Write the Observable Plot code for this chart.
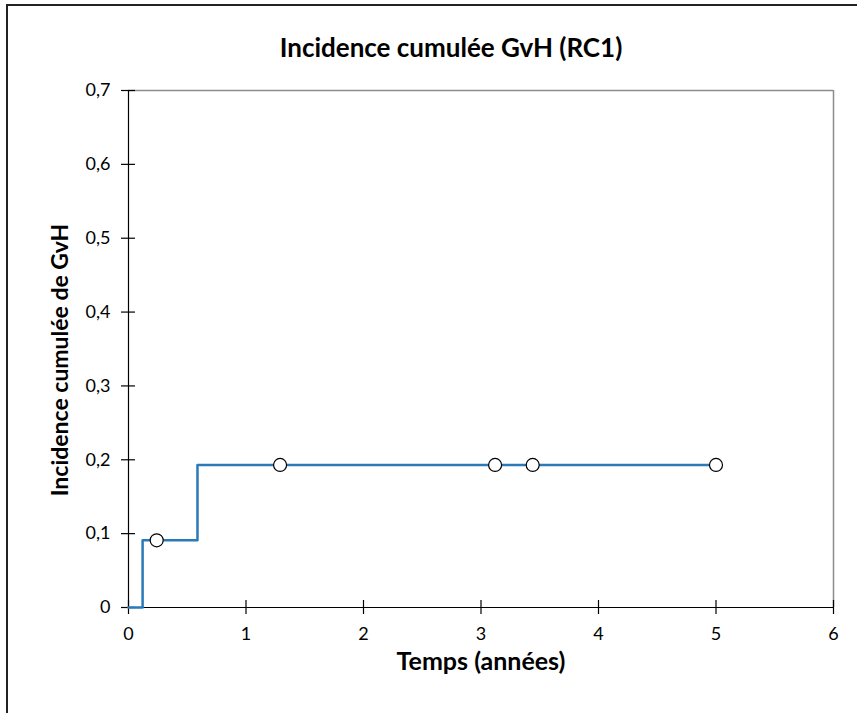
<!DOCTYPE html>
<html>
<head>
<meta charset="utf-8">
<script src="https://cdn.jsdelivr.net/npm/d3@7"></script>
<script src="https://cdn.jsdelivr.net/npm/@observablehq/plot@0.6"></script>
<style>
  html, body { margin: 0; padding: 0; background: #fff; }
  #page { position: relative; width: 857px; height: 713px; overflow: hidden; }
  #box { position: absolute; left: 6px; top: 4px; width: 900px; height: 800px;
         border-left: 2px solid #222; border-top: 2px solid #222; }
  #title { position: absolute; left: 0; width: 902px; top: 31px; text-align: center;
           font-family: Lato, sans-serif; font-weight: bold; font-size: 26px; color: #000; }
  #chart { position: absolute; left: 0; top: 0; }
  #chart g[aria-label="x-axis tick label"],
  #chart g[aria-label="y-axis tick label"] { font-size: 18px !important; }
</style>
</head>
<body>
<div id="page">
  <div id="box"></div>
  <div id="chart"></div>
  <div id="title">Incidence cumulée GvH (RC1)</div>
</div>
<script>
// Cumulative incidence step function (time in years)
const stepTimes = [0, 0.12, 0.587, 5.0];
const stepValues = [0, 0.091, 0.193, 0.193];

// Censored observations
const censorTimes = [0.24, 1.29, 3.12, 3.44, 5.0];
const censorValues = [0.091, 0.193, 0.193, 0.193, 0.193];

const xTicks = [0, 1, 2, 3, 4, 5, 6];
const yTicks = [0, 0.1, 0.2, 0.3, 0.4, 0.5, 0.6, 0.7];

const steps = stepTimes.map((t, i) => ({t, v: stepValues[i]}));
const censored = censorTimes.map((t, i) => ({t, v: censorValues[i]}));

const fmt = d => d === 0 ? "0" : String(d).replace(".", ",");

const chart = Plot.plot({
  width: 857,
  height: 713,
  marginLeft: 128,
  marginRight: 24,
  marginTop: 90,
  marginBottom: 106,
  style: {fontFamily: "Lato, sans-serif", fontSize: "18px", color: "#000", background: "transparent"},
  x: {domain: [0, 6]},
  y: {domain: [0, 0.7]},
  marks: [
    Plot.ruleY([0.7], {stroke: "#8c8c8c", strokeWidth: 1.5}),
    Plot.ruleX([6], {stroke: "#8c8c8c", strokeWidth: 1.5}),
    Plot.ruleX([0], {stroke: "#000", strokeWidth: 1.2}),
    Plot.ruleY([0], {stroke: "#000", strokeWidth: 1.2}),
    Plot.axisX({ticks: xTicks, tickFormat: fmt, tickSize: 14, dy: -7, tickPadding: 13,
      stroke: "#000", strokeWidth: 1.2, fontSize: 18, label: null}),
    Plot.axisY({ticks: yTicks, tickFormat: fmt, tickSize: 14, dx: 7, tickPadding: 11,
      stroke: "#000", strokeWidth: 1.2, fontSize: 18, label: null}),
    Plot.text(["Temps (années)"], {frameAnchor: "bottom", dy: 45, fontSize: 25, fontWeight: "bold", lineAnchor: "top"}),
    Plot.text(["Incidence cumulée de GvH"], {frameAnchor: "left", dx: -68, dy: 11, rotate: -90,
      textAnchor: "middle", fontSize: 23, fontWeight: "bold"}),
    Plot.line(steps, {x: "t", y: "v", curve: "step-after", stroke: "#2a7ab9", strokeWidth: 2.5}),
    Plot.dot(censored, {x: "t", y: "v", r: 6.5, fill: "#fff", stroke: "#000", strokeWidth: 1.2})
  ]
});
document.getElementById("chart").appendChild(chart);
</script>
</body>
</html>
